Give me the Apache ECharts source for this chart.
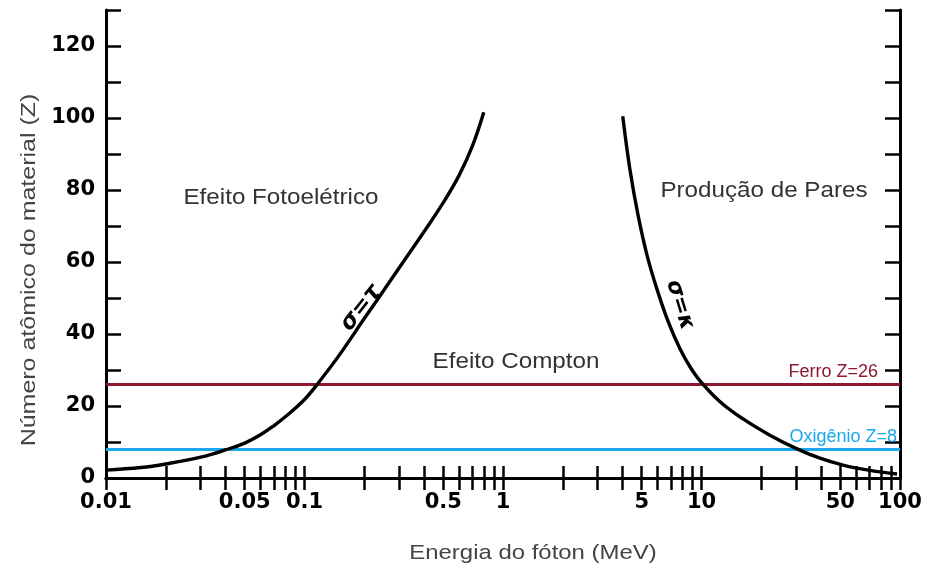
<!DOCTYPE html>
<html>
<head>
<meta charset="utf-8">
<script src="https://cdn.jsdelivr.net/npm/echarts@6/dist/echarts.min.js"></script>
<style>
  html, body { margin: 0; padding: 0; background: #fff; }
  #chart { width: 930px; height: 571px; }
</style>
</head>
<body>
<div id="chart"></div>
<script>
// Boundary where photoelectric and Compton cross sections are equal (σ = τ)
const photoEnergy = [0.01, 0.015, 0.02, 0.03, 0.04, 0.05, 0.06, 0.07, 0.08, 0.1,  0.12, 0.15, 0.2,  0.25, 0.3,  0.4,  0.5,  0.6,  0.7,  0.8];
const photoZ      = [2.2,  2.9,   3.9,  5.8,  7.8,  9.7,  12.0, 14.5, 17.0, 21.8, 27.1, 34.2, 44.3, 52.0, 58.4, 68.4, 76.5, 84.0, 92.1, 101.6];

// Boundary where Compton and pair production cross sections are equal (σ = κ)
const pairEnergy = [4.01,  4.36, 4.79, 5.31, 5.97, 6.78, 7.79, 8.75, 9.83, 12.4, 16.2, 22.1, 30.3, 39.5, 51.6, 70.6, 96.6];
const pairZ      = [100.5, 85.7, 73.0, 62.0, 52.4, 43.6, 35.9, 30.9, 27.0, 21.2, 16.4, 11.9, 8.1,  5.5,  3.6,  2.1,  1.1];

// Reference materials
const ironZ = 26;
const oxygenZ = 8;

// Axis ticks and labels
const energyLabels = [0.01, 0.05, 0.1, 0.5, 1, 5, 10, 50, 100];
const energyTicks = [];
[0.01, 0.1, 1, 10].forEach(function (d) {
  for (let k = 1; k <= 9; k++) energyTicks.push(+(d * k).toPrecision(3));
});
energyTicks.push(100);

const zMin = 0, zMax = 130, zStep = 10;

function pairs(xs, ys) { return xs.map(function (x, i) { return [x, ys[i]]; }); }

const chart = echarts.init(document.getElementById('chart'));

const axisLineStyle = { color: '#000', width: 3 };
const tickStyle = { color: '#000', width: 2.5 };
const tickFont = { color: '#000', fontFamily: 'DejaVu Sans', fontWeight: 'bold', fontSize: 21 };
const bodyFont = 'Liberation Sans';
const textGray = '#333';

chart.setOption({
  animation: false,
  backgroundColor: '#fff',
  grid: { left: 106, right: 30, top: 10, bottom: 93, containLabel: false },
  xAxis: [
    {
      type: 'log', logBase: 10, min: 0.01, max: 100, position: 'bottom',
      axisLine: { show: true, lineStyle: axisLineStyle },
      axisTick: { show: true, inside: true, length: 12, lineStyle: tickStyle, customValues: energyTicks },
      axisLabel: { show: true, margin: 14, customValues: energyLabels, formatter: function (v) { return String(v); }, ...tickFont },
      splitLine: { show: false }, minorTick: { show: false }
    },
    {
      type: 'log', logBase: 10, min: 0.01, max: 100, position: 'top',
      axisLine: { show: true, lineStyle: axisLineStyle },
      axisTick: { show: true, inside: true, length: 12, lineStyle: tickStyle, customValues: energyTicks },
      axisLabel: { show: false },
      splitLine: { show: false }
    }
  ],
  yAxis: [
    {
      type: 'value', min: zMin, max: zMax, interval: zStep, position: 'left',
      axisLine: { show: true, lineStyle: axisLineStyle },
      axisTick: { show: true, inside: true, length: 15, lineStyle: tickStyle },
      axisLabel: {
        show: true, margin: 11,
        formatter: function (v) { return (v % 20 === 0 && v <= 120) ? String(v) : ''; },
        ...tickFont
      },
      splitLine: { show: false }
    },
    {
      type: 'value', min: zMin, max: zMax, interval: zStep, position: 'right',
      axisLine: { show: true, lineStyle: axisLineStyle },
      axisTick: { show: true, inside: true, length: 15, lineStyle: tickStyle },
      axisLabel: { show: false },
      splitLine: { show: false }
    }
  ],
  series: [
    {
      name: 'σ=τ', type: 'line', smooth: 0.4, showSymbol: false, silent: true,
      data: pairs(photoEnergy, photoZ),
      lineStyle: { color: '#000', width: 3.4 }, z: 5
    },
    {
      name: 'σ=κ', type: 'line', smooth: 0.4, showSymbol: false, silent: true,
      data: pairs(pairEnergy, pairZ),
      lineStyle: { color: '#000', width: 3.4 }, z: 5
    },
    {
      name: 'materiais', type: 'line', data: [], silent: true,
      markLine: {
        symbol: 'none', silent: true, animation: false,
        data: [
          {
            yAxis: ironZ,
            lineStyle: { color: '#8b1a30', width: 3, type: 'solid' },
            label: {
              show: true, position: 'insideEndTop', distance: [22, 3],
              formatter: 'Ferro Z=' + ironZ,
              color: '#8b1a30', fontFamily: bodyFont, fontSize: 18
            }
          },
          {
            yAxis: oxygenZ,
            lineStyle: { color: '#1aa7ec', width: 3, type: 'solid' },
            label: {
              show: true, position: 'insideEndTop', distance: [3, 3],
              formatter: 'Oxigênio Z=' + oxygenZ,
              color: '#1aa7ec', fontFamily: bodyFont, fontSize: 18
            }
          }
        ]
      },
      z: 4
    }
  ],
  graphic: [
    {
      type: 'text', x: 29, y: 270, rotation: Math.PI / 2, scaleX: 1.19,
      style: { text: 'Número atômico do material (Z)', font: '21px "Liberation Sans"', fill: '#444', align: 'center', verticalAlign: 'middle' }
    },
    {
      type: 'text', x: 533, y: 553, scaleX: 1.14,
      style: { text: 'Energia do fóton (MeV)', font: '21px "Liberation Sans"', fill: '#444', align: 'center', verticalAlign: 'middle' }
    },
    {
      type: 'text', x: 281, y: 198, scaleX: 1.1,
      style: { text: 'Efeito Fotoelétrico', font: '22px "Liberation Sans"', fill: textGray, align: 'center', verticalAlign: 'middle' }
    },
    {
      type: 'text', x: 764, y: 191, scaleX: 1.1,
      style: { text: 'Produção de Pares', font: '22px "Liberation Sans"', fill: textGray, align: 'center', verticalAlign: 'middle' }
    },
    {
      type: 'text', x: 516, y: 362, scaleX: 1.1,
      style: { text: 'Efeito Compton', font: '22px "Liberation Sans"', fill: textGray, align: 'center', verticalAlign: 'middle' }
    },
    {
      type: 'text', x: 361, y: 308, rotation: 0.907,
      style: { text: 'σ=τ', font: 'italic bold 23px "DejaVu Sans"', fill: '#000', align: 'center', verticalAlign: 'middle' }
    },
    {
      type: 'text', x: 680, y: 305, rotation: -1.27,
      style: { text: 'σ=κ', font: 'italic bold 22px "DejaVu Sans"', fill: '#000', align: 'center', verticalAlign: 'middle' }
    }
  ]
});
</script>
</body>
</html>
